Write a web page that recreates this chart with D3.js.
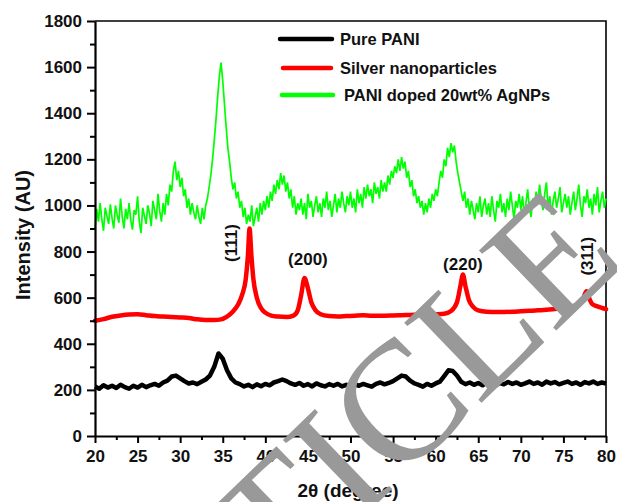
<!DOCTYPE html>
<html>
<head>
<meta charset="utf-8">
<script src="https://cdn.jsdelivr.net/npm/d3@7"></script>
<style>
  html, body { margin: 0; padding: 0; background: #fff; }
  svg { display: block; }
  text { font-family: Arial, "Liberation Sans", sans-serif; font-weight: bold; fill: #111; }
</style>
</head>
<body>
<svg id="chart" width="617" height="502"></svg>
<script>
// 2θ sampling grids (degrees)
const angleFine = d3.range(20, 80.0001, 0.2);   // PANI doped 20wt% AgNPs
const angleCoarse = d3.range(20, 80.0001, 0.5); // Pure PANI

// PANI doped 20wt% AgNPs intensity, one row per 2°
const dopedIntensity = [
  900, 985, 930, 1010, 940, 890, 990, 955, 920, 1005,
  945, 900, 1000, 960, 925, 1030, 950, 900, 985, 940,
  1010, 935, 895, 980, 960, 1040, 930, 880, 990, 955,
  920, 1000, 965, 910, 1020, 980, 940, 1050, 975, 930,
  1010, 960, 1050, 1000, 1090, 1060, 1150, 1190, 1110, 1150,
  1080, 1120, 1040, 1070, 990, 1030, 960, 1010, 970, 940,
  1000, 950, 920, 990, 940, 1000, 1030, 1080, 1130, 1200,
  1280, 1370, 1470, 1560, 1620, 1540, 1440, 1340, 1250, 1190,
  1120, 1070, 1100, 1030, 1060, 990, 1020, 950, 990, 920,
  960, 930, 1000, 910, 950, 990, 930, 1010, 960, 1020,
  980, 1040, 990, 1060, 1020, 1090, 1050, 1110, 1070, 1140,
  1090, 1130, 1060, 1100, 1030, 1070, 990, 1040, 960, 1010,
  980, 1030, 960, 1010, 940, 1050, 990, 1020, 950, 1000,
  1040, 970, 1010, 950, 1030, 990, 1060, 980, 1020, 950,
  1000, 1050, 970, 1030, 990, 1060, 1010, 970, 1040, 1000,
  1060, 990, 1030, 970, 1070, 1010, 1050, 990, 1080, 1030,
  1090, 1040, 1070, 1010, 1100, 1050, 1080, 1030, 1110, 1060,
  1100, 1060, 1130, 1090, 1150, 1120, 1170, 1140, 1200, 1150,
  1210, 1160, 1190, 1120, 1150, 1080, 1110, 1040, 1070, 1010,
  1040, 990, 1020, 960, 1010, 970, 1030, 990, 1050, 1020,
  1070, 1040, 1100, 1150, 1120, 1200, 1170, 1250, 1210, 1270,
  1230, 1260, 1190, 1140, 1100, 1060, 1020, 1060, 990, 1030,
  960, 1020, 980, 940, 1010, 970, 1040, 950, 1000, 1030,
  960, 1010, 950, 1040, 980, 930, 1020, 990, 1050, 970,
  1010, 950, 1030, 980, 1060, 1000, 940, 1020, 990, 1050,
  980, 1040, 960, 1010, 1070, 990, 950, 1030, 1000, 1060,
  1010, 1090, 1030, 980, 1050, 1100, 990, 1040, 960, 1020,
  1060, 990, 1030, 1080, 970, 1010, 1050, 990, 1040, 960,
  1010, 1060, 980, 1030, 1090, 1000, 950, 1040, 1010, 1070,
  990, 1030, 960, 1050, 1000, 1080, 970, 1020, 1060, 990,
  1030
];

// Pure PANI intensity, one row per 5°
const panIntensity = [
  215, 205, 220, 210, 218, 208, 222, 212, 205, 218,
  210, 222, 212, 220, 226, 218, 232, 240, 258, 262,
  250, 238, 228, 232, 225, 235, 245, 262, 300, 358,
  335, 285, 250, 232, 225, 215, 222, 212, 224, 216,
  226, 220, 232, 238, 245, 238, 228, 222, 230, 218,
  225, 215, 228, 220, 215, 225, 218, 226, 215, 222,
  212, 224, 218, 226, 220, 214, 226, 232, 224, 230,
  238, 250, 262, 258, 240, 228, 222, 214, 226, 218,
  228, 236, 260, 285, 282, 262, 235, 225, 232, 222,
  230, 220, 232, 226, 218, 230, 224, 234, 226, 232,
  222, 228, 236, 226, 232, 222, 236, 228, 234, 224,
  230, 236, 226, 232, 222, 234, 228, 236, 226, 232,
  228
];

// Silver nanoparticles: [2θ, intensity]
const silverPattern = [
  [20, 500], [21, 507], [22, 517], [23, 523], [24, 527], [25, 528], [26, 524],
  [27, 520], [28, 518], [29, 516], [30, 514], [31, 512], [32, 506], [33, 503],
  [34, 503], [34.8, 506], [35.5, 518], [36.2, 540], [36.8, 570], [37.3, 615],
  [37.7, 680], [37.95, 780], [38.15, 900], [38.35, 790], [38.6, 680], [39, 600],
  [39.5, 555], [40, 535], [40.7, 522], [41.5, 518], [42.5, 516], [43.3, 522],
  [43.8, 545], [44.2, 610], [44.6, 685], [45, 640], [45.4, 580], [45.9, 545],
  [46.5, 528], [47.5, 520], [48.5, 518], [49.5, 520], [50.5, 522], [51.5, 524],
  [52.5, 522], [53.5, 522], [55, 523], [56, 524], [57, 525], [58, 526], [59, 527],
  [60, 528], [61, 530], [61.8, 542], [62.5, 580], [62.9, 650], [63.2, 700],
  [63.5, 650], [63.9, 590], [64.4, 560], [65, 545], [66, 539], [67, 538],
  [68, 538], [69, 539], [70, 541], [71, 543], [72, 545], [73, 548], [74, 551],
  [75, 556], [76, 562], [76.8, 572], [77.3, 595], [77.7, 628], [78, 600],
  [78.4, 572], [79, 562], [79.5, 556], [80, 550]
];

const seriesNames = ["Pure PANI", "Silver nanoparticles", "PANI doped 20wt% AgNPs"];
const seriesColors = ["#000000", "#ff0000", "#00ff00"];
const yTicks = d3.range(0, 1801, 200);
const yMinorTicks = d3.range(100, 1800, 200);
const xTicks = d3.range(20, 81, 5);
const xMinorTicks = d3.range(22.5, 80, 5);
// Miller-index labels, anchored in data units (2θ, intensity)
const peakLabels = [
  { text: "(111)", angle: 36.67, level: 837, rotate: true },
  { text: "(200)", angle: 45.0, level: 742, rotate: false },
  { text: "(220)", angle: 63.2, level: 720, rotate: false },
  { text: "(311)", angle: 78.47, level: 780, rotate: true }
];

const svg = d3.select("#chart");
const plotLeft = 95, plotRight = 606, plotTop = 21, plotBottom = 436;

const x = d3.scaleLinear().domain([20, 80]).range([plotLeft, plotRight]);
const y = d3.scaleLinear().domain([0, 1800]).range([plotBottom, plotTop]);

// plot frame (top and right)
svg.append("path")
  .attr("d", `M${plotLeft},${plotTop}H${plotRight}V${plotBottom}`)
  .attr("fill", "none").attr("stroke", "#000").attr("stroke-width", 1.6);

// series
const straight = d3.line().x(d => x(d[0])).y(d => y(d[1]));
const smooth = d3.line().x(d => x(d[0])).y(d => y(d[1])).curve(d3.curveMonotoneX);
const panData = angleCoarse.map((a, i) => [a, panIntensity[i]]);
const dopedData = angleFine.map((a, i) => [a, dopedIntensity[i]]);

svg.append("path").datum(panData)
  .attr("d", straight)
  .attr("fill", "none").attr("stroke", seriesColors[0])
  .attr("stroke-width", 4.5).attr("stroke-linejoin", "round");

svg.append("path").datum(silverPattern)
  .attr("d", smooth)
  .attr("fill", "none").attr("stroke", seriesColors[1])
  .attr("stroke-width", 4.5).attr("stroke-linejoin", "round").attr("stroke-linecap", "round");

svg.append("path").datum(dopedData)
  .attr("d", straight)
  .attr("fill", "none").attr("stroke", seriesColors[2])
  .attr("stroke-width", 1.7).attr("stroke-linejoin", "miter");

// axes
svg.append("g").attr("transform", `translate(${plotLeft},0)`)
  .call(d3.axisLeft(y).tickValues(yTicks).tickFormat(d3.format("d"))
    .tickSize(8).tickSizeOuter(0).tickPadding(5));
svg.append("g").attr("transform", `translate(${plotLeft},0)`)
  .call(d3.axisLeft(y).tickValues(yMinorTicks).tickSize(5).tickSizeOuter(0).tickFormat(""))
  .select(".domain").remove();

svg.append("g").attr("transform", `translate(0,${plotBottom})`)
  .call(d3.axisBottom(x).tickValues(xTicks).tickFormat(d3.format("d"))
    .tickSize(7).tickSizeOuter(0).tickPadding(7));
svg.append("g").attr("transform", `translate(0,${plotBottom})`)
  .call(d3.axisBottom(x).tickValues(xMinorTicks).tickSize(4).tickSizeOuter(0).tickFormat(""))
  .select(".domain").remove();

svg.selectAll(".tick line").attr("stroke", "#000").attr("stroke-width", 2);
svg.selectAll(".domain").attr("stroke", "#000").attr("stroke-width", 2.2);
svg.selectAll(".tick text")
  .attr("fill", "#111")
  .style("font-family", "Arial, 'Liberation Sans', sans-serif")
  .style("font-weight", "bold").style("font-size", "17px");

// axis titles
svg.append("text")
  .attr("transform", "translate(30,235) rotate(-90)")
  .attr("text-anchor", "middle")
  .style("font-size", "20px")
  .text("Intensity (AU)");

svg.append("text")
  .attr("x", 348).attr("y", 497)
  .attr("text-anchor", "middle")
  .style("font-size", "19px")
  .text("2θ (degree)");

// reflection labels
peakLabels.forEach(p => {
  const t = svg.append("text")
    .attr("text-anchor", "middle")
    .style("font-size", "17px")
    .text(p.text);
  if (p.rotate) {
    t.attr("transform", `translate(${x(p.angle)},${y(p.level)}) rotate(-90)`);
  } else {
    t.attr("x", x(p.angle)).attr("y", y(p.level));
  }
});

// legend
const legend = svg.append("g");
const legendRows = [
  { y: 39, x1: 280, x2: 332, tx: 340 },
  { y: 68, x1: 283, x2: 331, tx: 340 },
  { y: 95, x1: 282, x2: 333, tx: 344 }
];
seriesNames.forEach((name, i) => {
  const r = legendRows[i];
  legend.append("line")
    .attr("x1", r.x1).attr("x2", r.x2).attr("y1", r.y).attr("y2", r.y)
    .attr("stroke", seriesColors[i]).attr("stroke-width", 4.5).attr("stroke-linecap", "round");
  legend.append("text")
    .attr("x", r.tx).attr("y", r.y + 6)
    .style("font-size", "16.5px")
    .text(name);
});

// overlay stamp
svg.append("text")
  .attr("transform", "translate(118.5,753.4) rotate(-44)")
  .attr("text-anchor", "start")
  .style("font-family", "'Liberation Serif', 'Times New Roman', serif")
  .style("font-weight", "normal")
  .style("font-size", "170px")
  .style("fill", "#999999")
  .text("ARTICLE");
</script>
</body>
</html>
